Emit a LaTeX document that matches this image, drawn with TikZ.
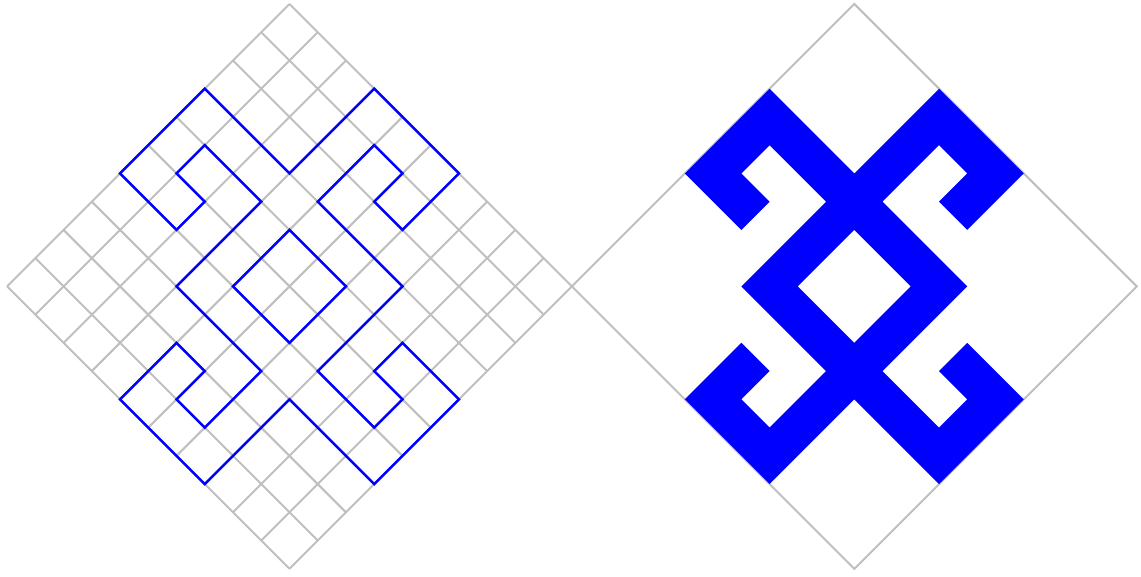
\documentclass[tikz,border=0pt]{standalone}
\usepackage{tikz}
\tikzset{
  tilted/.style={shift={(#1)},x={(0.5cm,-0.5cm)},y={(-0.5cm,-0.5cm)}},
  gridline/.style={draw=lightgray,line width=1pt},
  motif/.style={draw=blue,line width=1.25pt},
}
\newcommand{\motifloop}{(0,3) -- (3,3) -- (3,0) -- (6,0) -- (6,2) -- (5,2) -- (5,1) -- (4,1) -- (4,3)
  -- (7,3) -- (7,6) -- (9,6) -- (9,5) -- (8,5) -- (8,4) -- (10,4) -- (10,7) -- (7,7)
  -- (7,10) -- (4,10) -- (4,8) -- (5,8) -- (5,9) -- (6,9) -- (6,7) -- (3,7)
  -- (3,4) -- (1,4) -- (1,5) -- (2,5) -- (2,6) -- (0,6) -- cycle
  (4,4) -- (6,4) -- (6,6) -- (4,6) -- cycle}

\begin{document}
\begin{tikzpicture}[x=0.5cm,y=0.5cm]
\useasboundingbox (-0.25,-10.28) rectangle (40.15,10.14);
\begin{scope}[tilted={10,10}]
\foreach \k in {0,...,10} {
  \draw[gridline] (\k,0) -- (\k,10);
  \draw[gridline] (0,\k) -- (10,\k);
}
\draw[motif] \motifloop;
\end{scope}
\begin{scope}[tilted={30,10}]
\draw[gridline] (0,0) -- (10,0) -- (10,10) -- (0,10) -- cycle;
\fill[blue,even odd rule] \motifloop;
\end{scope}
\end{tikzpicture}
\end{document}
